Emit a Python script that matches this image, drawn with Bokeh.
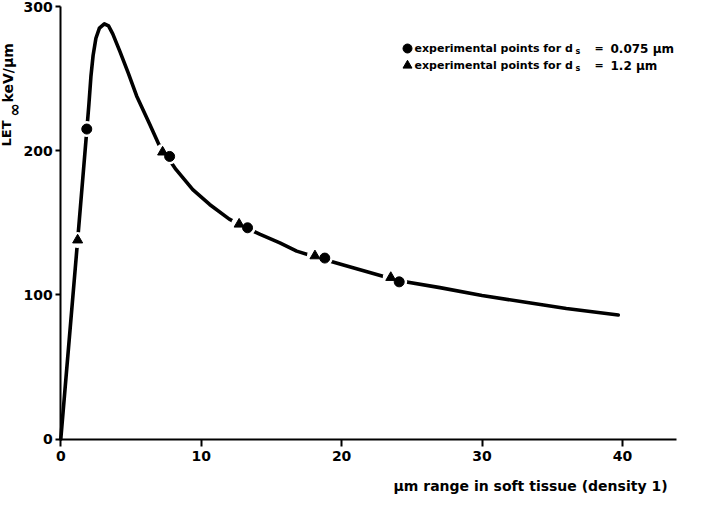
import math
from bokeh.plotting import figure
from bokeh.models import Range1d, Label, FixedTicker
from bokeh.embed import file_html
from bokeh.resources import INLINE

# ---- data ----
curve_x = [0, 0.6, 1.2, 1.85, 2.0, 2.15, 2.3, 2.5, 2.75, 3.1, 3.4, 3.7, 4.2, 4.8, 5.4,
           6.3, 7.0, 7.5, 8.2, 9.4, 10.6, 12.0, 13.0, 14.2, 15.6, 16.8, 18.4, 20, 22,
           24, 27, 30, 33, 36, 39.7]
curve_y = [0, 69, 138, 214, 232, 252, 266, 278, 285, 288, 286.5, 281, 269, 254, 238,
           219, 204, 197, 187, 173, 162.7, 152.5, 147.5, 141.9, 136, 130.3, 125.5, 121,
           115.5, 110, 105, 99.5, 95, 90.5, 86]

tri_x = [1.2, 7.25, 12.7, 18.1, 23.5]      # d_s = 1.2 um
tri_y = [138, 199, 149, 127, 112]
circ_x = [1.85, 7.75, 13.3, 18.8, 24.1]    # d_s = 0.075 um
circ_y = [215, 196, 146.5, 125.5, 109]

x_ticks = [0, 10, 20, 30, 40]
y_ticks = [0, 100, 200, 300]
x_axis_end = 43.87
y_axis_end = 300

legend_main = "experimental points for d"
legend_sub = "s"
legend_eq = "="
legend_vals = ["0.075 µm", "1.2 µm"]
x_title = "µm range in soft tissue (density 1)"
y_title_a = "LET"
y_title_sub = "∞"
y_title_b = "keV/µm"

# ---- geometry (figure pixels) ----
W, H = 689, 497
X0_PX, Y0_PX = 60.3, 438.5          # where data (0, 0) sits
SX = 616 / x_axis_end                # px per x unit
SY = 432.5 / y_axis_end              # px per y unit

x_start, x_end = -X0_PX / SX, (W - X0_PX) / SX
y_start, y_end = -(H - Y0_PX) / SY, Y0_PX / SY

def px2x(X):   # reference-image pixel -> data x
    return (X - 8 - X0_PX) / SX

def px2y(Y):
    return (Y0_PX - (Y - 8)) / SY

FONT = "DejaVu Sans"
INK = "#000000"

p = figure(width=W, height=H, output_backend="svg", toolbar_location=None,
           title=None, x_range=Range1d(x_start, x_end), y_range=Range1d(y_start, y_end),
           min_border_left=0, min_border_top=0, min_border_right=0, min_border_bottom=0)
p.outline_line_color = None
p.grid.visible = False
p.background_fill_color = "white"
p.border_fill_color = "white"

p.xaxis.fixed_location = 0
p.yaxis.fixed_location = 0
p.xaxis.bounds = (0, x_axis_end)
p.yaxis.bounds = (0, y_axis_end)

for ax, ticks in ((p.xaxis, x_ticks), (p.yaxis, y_ticks)):
    ax.ticker = FixedTicker(ticks=ticks)
    ax.axis_line_width = 2
    ax.axis_line_color = INK
    ax.major_tick_line_width = 2
    ax.major_tick_line_color = INK
    ax.major_tick_in = 0
    ax.minor_tick_line_color = None
    ax.major_label_text_font = FONT
    ax.major_label_text_font_style = "bold"
    ax.major_label_text_font_size = "14px"
    ax.major_label_text_color = INK
p.yaxis.major_tick_out = 5
p.yaxis.major_label_standoff = 3
p.xaxis.major_tick_out = 7
p.xaxis.major_label_standoff = 5

# curve
p.line(curve_x, curve_y, line_width=3.6, line_color=INK, line_cap="round", line_join="round")

# white halos then markers
p.scatter(tri_x + circ_x, tri_y + circ_y, marker="circle", size=16,
          fill_color="white", line_color=None)
p.scatter(tri_x, tri_y, marker="triangle", size=10, fill_color=INK, line_color=INK)
p.scatter(circ_x, circ_y, marker="circle", size=10, fill_color=INK, line_color=INK)

# legend
rows = [(56, "circle", legend_vals[0]), (73, "triangle", legend_vals[1])]
for Y, mk, val in rows:
    p.scatter([px2x(415)], [px2y(Y)], marker=mk, size=9, fill_color=INK, line_color=INK)
    common = dict(text_font=FONT, text_font_style="bold", text_color=INK,
                  text_baseline="middle", text_align="left")
    p.add_layout(Label(x=px2x(422), y=px2y(Y), text=legend_main, text_font_size="11px", **common))
    p.add_layout(Label(x=px2x(583), y=px2y(Y + 3), text=legend_sub, text_font_size="8px", **common))
    p.add_layout(Label(x=px2x(602), y=px2y(Y), text=legend_eq, text_font_size="11px", **common))
    p.add_layout(Label(x=px2x(618), y=px2y(Y), text=val, text_font_size="12px", **common))

# axis titles
p.add_layout(Label(x=px2x(538), y=px2y(493), text=x_title, text_font=FONT,
                   text_font_style="bold", text_font_size="14px", text_color=INK,
                   text_align="center", text_baseline="middle"))
rot = dict(angle=math.pi / 2, text_font=FONT, text_font_style="bold", text_color=INK,
           text_baseline="middle")
p.add_layout(Label(x=px2x(14), y=px2y(154), text=y_title_a, text_font_size="13px",
                   text_align="left", **rot))
p.add_layout(Label(x=px2x(21.5), y=px2y(117.5), text=y_title_sub, text_font_size="16px",
                   text_align="center", **rot))
p.add_layout(Label(x=px2x(15), y=px2y(110), text=y_title_b, text_font_size="14px",
                   text_align="left", **rot))

open("out.html", "w").write(file_html(p, INLINE))
